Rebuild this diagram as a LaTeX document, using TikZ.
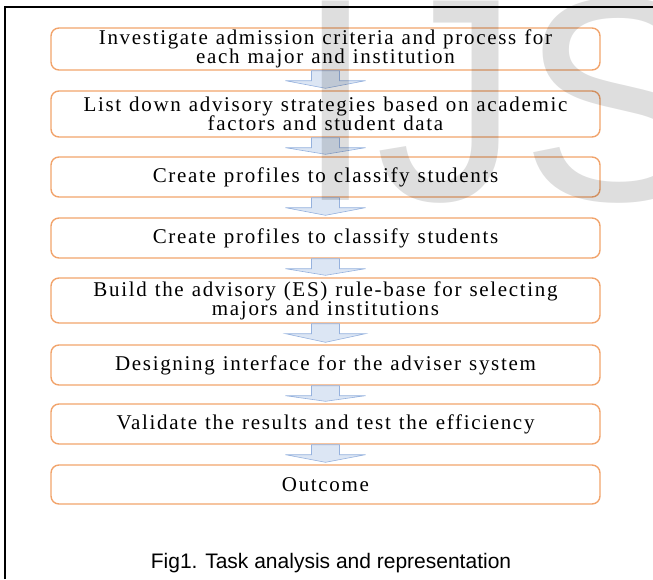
\documentclass[tikz,border=0pt]{standalone}
\usepackage{fontspec}
\setmainfont{Liberation Serif}
\newfontfamily\taskfont[LetterSpace=8,WordSpace=1.15]{Liberation Serif}
\newfontfamily\capfont{Liberation Sans}
\usetikzlibrary{calc}
\definecolor{boxorange}{RGB}{241,164,108}
\definecolor{arrowfill}{RGB}{220,230,244}
\definecolor{arrowline}{RGB}{150,178,222}
\tikzset{
	taskbox/.style={draw=boxorange, line width=1.4pt, rounded corners=8pt, minimum width=549pt, inner sep=0pt, align=center, font={\taskfont\fontsize{21}{19}\selectfont\lineskiplimit=-100pt}},
	flowarrow/.style={draw=arrowline, fill=arrowfill, line width=0.6pt},
	captext/.style={anchor=base, inner sep=0pt, font={\capfont\fontsize{21}{24}\selectfont}},
	watermark/.style={anchor=base west, inner sep=0pt, text=black, text opacity=0.13, font={\capfont\fontsize{290}{290}\selectfont}}
}

\begin{document}
\begin{tikzpicture}[x=1pt, y=-1pt]
		%%%%% START %%%%%
		\useasboundingbox (0, 0) rectangle (653, 579);
		
		\draw[line width=2pt] (5, 579) -- (5, 7) -- (653, 7);
		
		\node[taskbox, minimum height=42pt] (t1) at (325.5, 49) {Investigate admission criteria and process for\\each major and institution};
		\node[taskbox, minimum height=46pt] (t2) at (325.5, 114) {List down advisory strategies based on academic\\factors and student data};
		\node[taskbox, minimum height=40pt] (t3) at (325.5, 177) {Create profiles to classify students};
		\node[taskbox, minimum height=40pt] (t4) at (325.5, 238) {Create profiles to classify students};
		\node[taskbox, minimum height=45pt] (t5) at (325.5, 300.5) {Build the advisory (ES) rule-base for selecting\\majors and institutions};
		\node[taskbox, minimum height=40pt] (t6) at (325.5, 365) {Designing interface for the adviser system};
		\node[taskbox, minimum height=40pt] (t7) at (325.5, 424) {Validate the results and test the efficiency};
		\node[taskbox, minimum height=39pt] (t8) at (325.5, 484.5) {Outcome};
		
		\foreach \a/\b in {t1/t2, t2/t3, t3/t4, t4/t5, t5/t6, t6/t7, t7/t8}
			\draw[flowarrow] ($(\a.south)+(-14, 0)$) -- ($(\a.south)+(14, 0)$) -- ($(\a.south)+(14, 10)$) -- ($(\a.south)+(40, 10)$) -- ($(\b.north)+(0, -2)$) -- ($(\a.south)+(-40, 10)$) -- ($(\a.south)+(-14, 10)$) -- cycle;
		
		\node[captext] (cap) at (331, 568) {Fig1. Task analysis and representation};
		
		\begin{scope}
			\clip (0, 0) rectangle (653, 579);
			\node[watermark] (mark) at (295, 200) {IJS};
		\end{scope}
		%%%%% END %%%%%
\end{tikzpicture}
\end{document}
